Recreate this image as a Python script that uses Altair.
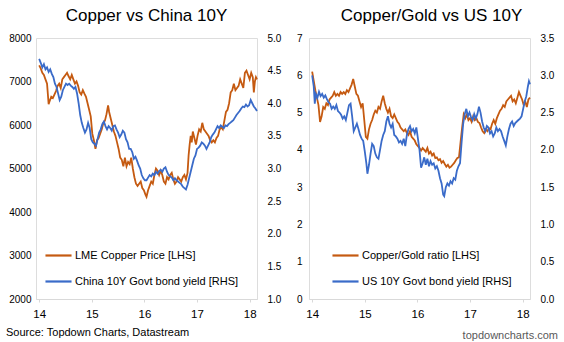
import altair as alt
import pandas as pd

FONT = "Liberation Sans"
ORANGE = "#C55A11"
BLUE = "#3A6BC9"

# ---------------- Left panel: Copper vs China 10Y ----------------
cu_t = [0.00, 0.03, 0.06, 0.09, 0.12, 0.15, 0.18, 0.20, 0.23, 0.26, 0.29, 0.32, 0.35, 0.38, 0.41,
        0.44, 0.47, 0.50, 0.53, 0.56, 0.59, 0.62, 0.65, 0.68, 0.71, 0.74, 0.77, 0.80, 0.83, 0.86,
        0.89, 0.92, 0.95, 0.98, 1.01, 1.04, 1.07, 1.10, 1.13, 1.16, 1.19, 1.22, 1.25, 1.28, 1.31,
        1.33, 1.36, 1.39, 1.42, 1.45, 1.48, 1.51, 1.54, 1.57, 1.60, 1.63, 1.66, 1.69, 1.72, 1.75,
        1.78, 1.81, 1.84, 1.87, 1.90, 1.93, 1.96, 1.99, 2.02, 2.04, 2.07, 2.10, 2.13, 2.16, 2.19,
        2.22, 2.25, 2.28, 2.31, 2.34, 2.37, 2.40, 2.43, 2.46, 2.49, 2.52, 2.55, 2.58, 2.61, 2.64,
        2.67, 2.70, 2.73, 2.76, 2.79, 2.82, 2.84, 2.86, 2.88, 2.90, 2.92, 2.95, 2.98, 3.01, 3.04,
        3.07, 3.10, 3.13, 3.16, 3.19, 3.22, 3.25, 3.28, 3.31, 3.34, 3.37, 3.40, 3.43, 3.46, 3.49,
        3.52, 3.55, 3.58, 3.61, 3.64, 3.67, 3.70, 3.73, 3.76, 3.79, 3.82, 3.85, 3.88, 3.91, 3.94,
        3.97, 4.00, 4.03, 4.06, 4.08, 4.10, 4.12, 4.14]
copper = [7370, 7300, 7200, 7150, 7050, 6950, 6480, 6550, 6650, 6620, 6700, 6780, 6900, 6950, 6850,
          7050, 7100, 7150, 7200, 7120, 7050, 7150, 7050, 6950, 7000, 6900, 6750, 6700, 6800, 6720,
          6650, 6500, 6350, 6200, 5800, 5650, 5450, 5650, 5700, 5800, 5900, 6050, 6100, 6250, 6450,
          6300, 6150, 6000, 5850, 5750, 5600, 5450, 5250, 5200, 5050, 5250, 5050, 5150, 5100, 5250,
          5000, 4800, 4650, 4600, 4650, 4700, 4550, 4500, 4400, 4350, 4500, 4600, 4700, 4650, 4850,
          5000, 4950, 4850, 4950, 4850, 4700, 4650, 4800, 4750, 4850, 4900, 4750, 4650, 4700, 4800,
          4750, 4700, 4800, 4850, 4750, 4900, 5300, 5550, 5750, 5600, 5850, 5700, 5550, 5750, 5900,
          5850, 6050, 5900, 5850, 5800, 5750, 5650, 5600, 5650, 5600, 5700, 5750, 5900, 5950, 5900,
          6100, 6300, 6350, 6500, 6750, 6800, 6950, 6800, 6850, 6900, 7050, 6950, 6850, 7200, 7250,
          7150, 7050, 7200, 7100, 6750, 7000, 7100, 7050]

cn_t = [0.00, 0.03, 0.06, 0.09, 0.12, 0.15, 0.18, 0.21, 0.24, 0.27, 0.30, 0.33, 0.36, 0.39, 0.42,
        0.45, 0.48, 0.51, 0.54, 0.57, 0.60, 0.63, 0.66, 0.69, 0.72, 0.75, 0.78, 0.81, 0.84, 0.87,
        0.90, 0.93, 0.96, 0.99, 1.02, 1.05, 1.08, 1.11, 1.14, 1.17, 1.20, 1.23, 1.26, 1.29, 1.32,
        1.35, 1.38, 1.41, 1.44, 1.47, 1.50, 1.53, 1.56, 1.59, 1.62, 1.65, 1.68, 1.71, 1.74, 1.77,
        1.80, 1.83, 1.86, 1.89, 1.92, 1.95, 1.98, 2.01, 2.04, 2.07, 2.10, 2.13, 2.16, 2.19, 2.22,
        2.25, 2.28, 2.31, 2.34, 2.37, 2.40, 2.43, 2.46, 2.49, 2.52, 2.55, 2.58, 2.61, 2.64, 2.67,
        2.70, 2.73, 2.76, 2.79, 2.82, 2.85, 2.88, 2.91, 2.94, 2.97, 3.00, 3.03, 3.06, 3.09, 3.12,
        3.15, 3.18, 3.21, 3.24, 3.27, 3.30, 3.33, 3.36, 3.39, 3.42, 3.45, 3.48, 3.51, 3.54, 3.57,
        3.60, 3.63, 3.66, 3.69, 3.72, 3.75, 3.78, 3.81, 3.84, 3.87, 3.90, 3.93, 3.96, 3.99, 4.02,
        4.05, 4.08, 4.11, 4.14]
china10y = [4.68, 4.62, 4.55, 4.60, 4.52, 4.55, 4.48, 4.52, 4.45, 4.40, 4.30, 4.25, 4.15, 4.05, 4.10,
            4.20, 4.25, 4.30, 4.28, 4.30, 4.27, 4.25, 4.22, 4.25, 4.15, 4.00, 3.82, 3.70, 3.62, 3.55,
            3.60, 3.70, 3.62, 3.45, 3.40, 3.38, 3.35, 3.45, 3.55, 3.60, 3.68, 3.72, 3.65, 3.60, 3.65,
            3.62, 3.58, 3.65, 3.66, 3.60, 3.55, 3.48, 3.52, 3.58, 3.55, 3.45, 3.40, 3.30, 3.30, 3.25,
            3.15, 3.18, 3.12, 3.05, 3.00, 2.90, 2.85, 2.82, 2.82, 2.86, 2.90, 2.88, 2.92, 2.90, 2.95,
            2.92, 2.96, 2.98, 2.95, 3.00, 3.02, 2.95, 2.90, 2.88, 2.86, 2.82, 2.85, 2.82, 2.80, 2.78,
            2.76, 2.72, 2.70, 2.68, 2.75, 2.85, 2.95, 3.05, 3.15, 3.20, 3.30, 3.32, 3.35, 3.40, 3.38,
            3.35, 3.30, 3.35, 3.40, 3.48, 3.52, 3.55, 3.60, 3.65, 3.62, 3.66, 3.64, 3.62, 3.66, 3.65,
            3.68, 3.70, 3.72, 3.74, 3.78, 3.82, 3.85, 3.88, 3.92, 3.95, 3.94, 3.98, 3.95, 3.97, 4.05,
            4.00, 3.95, 3.92, 3.88]

# ---------------- Right panel: Copper/Gold vs US 10Y ----------------
cg_t = [0.00, 0.03, 0.06, 0.09, 0.12, 0.15, 0.18, 0.21, 0.24, 0.27, 0.30, 0.33, 0.36, 0.39, 0.42,
        0.45, 0.48, 0.51, 0.54, 0.57, 0.60, 0.63, 0.66, 0.69, 0.72, 0.75, 0.78, 0.81, 0.84, 0.87,
        0.90, 0.93, 0.96, 0.99, 1.02, 1.05, 1.08, 1.11, 1.14, 1.17, 1.20, 1.23, 1.26, 1.29, 1.32,
        1.35, 1.38, 1.41, 1.44, 1.47, 1.50, 1.53, 1.56, 1.59, 1.62, 1.65, 1.68, 1.71, 1.74, 1.77,
        1.80, 1.83, 1.86, 1.89, 1.92, 1.95, 1.98, 2.01, 2.04, 2.07, 2.10, 2.13, 2.16, 2.19, 2.22,
        2.25, 2.28, 2.31, 2.34, 2.37, 2.40, 2.43, 2.46, 2.49, 2.52, 2.55, 2.58, 2.61, 2.64, 2.67,
        2.70, 2.73, 2.76, 2.79, 2.82, 2.85, 2.88, 2.91, 2.94, 2.97, 3.00, 3.03, 3.06, 3.09, 3.12,
        3.15, 3.18, 3.21, 3.24, 3.27, 3.30, 3.33, 3.36, 3.39, 3.42, 3.45, 3.48, 3.51, 3.54, 3.57,
        3.60, 3.63, 3.66, 3.69, 3.72, 3.75, 3.78, 3.81, 3.84, 3.87, 3.90, 3.93, 3.96, 3.99, 4.02,
        4.05, 4.08, 4.11, 4.14]
copper_gold = [6.10, 5.85, 5.60, 5.40, 5.20, 4.75, 4.90, 5.15, 5.10, 5.25, 5.20, 5.35, 5.40, 5.45, 5.55,
               5.45, 5.50, 5.45, 5.55, 5.50, 5.55, 5.50, 5.60, 5.55, 5.65, 5.75, 5.90, 5.70, 5.50, 5.45,
               5.30, 5.15, 5.25, 4.80, 4.35, 4.30, 4.55, 4.70, 4.80, 4.95, 5.05, 5.00, 5.15, 5.10, 5.30,
               5.45, 5.25, 5.10, 5.00, 5.10, 4.90, 4.85, 4.95, 4.85, 4.75, 4.70, 4.60, 4.55, 4.50, 4.55,
               4.45, 4.40, 4.50, 4.35, 4.30, 4.25, 4.15, 4.10, 4.05, 3.98, 4.05, 4.00, 3.95, 4.05, 3.90,
               3.95, 3.85, 3.90, 3.78, 3.80, 3.72, 3.75, 3.65, 3.70, 3.62, 3.55, 3.60, 3.52, 3.55, 3.60,
               3.65, 3.72, 3.78, 3.80, 4.20, 4.60, 4.95, 4.85, 4.95, 4.80, 4.85, 4.75, 4.90, 4.80, 4.85,
               4.75, 4.72, 4.60, 4.50, 4.45, 4.55, 4.50, 4.58, 4.55, 4.70, 4.80, 4.70, 4.85, 4.95, 5.05,
               5.10, 5.20, 5.15, 5.30, 5.35, 5.40, 5.45, 5.30, 5.35, 5.25, 5.40, 5.55, 5.45, 5.35, 5.20,
               5.30, 5.15, 5.35, 5.40]

us_t = [0.00, 0.03, 0.05, 0.07, 0.10, 0.13, 0.16, 0.19, 0.22, 0.25, 0.28, 0.31, 0.34, 0.37, 0.40,
        0.43, 0.46, 0.49, 0.52, 0.55, 0.58, 0.61, 0.64, 0.67, 0.70, 0.73, 0.76, 0.79, 0.82, 0.85,
        0.88, 0.91, 0.94, 0.97, 1.00, 1.03, 1.05, 1.08, 1.11, 1.14, 1.17, 1.20, 1.23, 1.26, 1.29,
        1.32, 1.35, 1.38, 1.41, 1.44, 1.47, 1.50, 1.53, 1.56, 1.59, 1.62, 1.65, 1.68, 1.71, 1.74,
        1.77, 1.80, 1.83, 1.86, 1.89, 1.92, 1.95, 1.98, 2.01, 2.04, 2.07, 2.10, 2.13, 2.16, 2.19,
        2.22, 2.25, 2.28, 2.31, 2.34, 2.37, 2.40, 2.43, 2.46, 2.49, 2.51, 2.54, 2.57, 2.60, 2.63,
        2.66, 2.69, 2.72, 2.75, 2.78, 2.81, 2.84, 2.87, 2.90, 2.93, 2.96, 2.99, 3.02, 3.05, 3.08,
        3.11, 3.14, 3.17, 3.20, 3.23, 3.26, 3.29, 3.32, 3.35, 3.38, 3.41, 3.44, 3.47, 3.50, 3.53,
        3.56, 3.59, 3.62, 3.65, 3.68, 3.71, 3.74, 3.77, 3.80, 3.83, 3.86, 3.89, 3.92, 3.95, 3.98,
        4.01, 4.04, 4.07, 4.10, 4.12, 4.14]
us10y = [3.00, 2.85, 2.62, 2.75, 2.70, 2.78, 2.72, 2.75, 2.70, 2.73, 2.68, 2.64, 2.62, 2.55, 2.58,
         2.55, 2.60, 2.52, 2.50, 2.47, 2.42, 2.45, 2.40, 2.50, 2.60, 2.62, 2.45, 2.25, 2.30, 2.35,
         2.28, 2.20, 2.15, 2.12, 1.98, 1.82, 1.68, 1.80, 1.95, 2.08, 2.05, 1.95, 1.90, 1.88, 2.00,
         2.12, 2.20, 2.25, 2.38, 2.45, 2.35, 2.30, 2.35, 2.20, 2.18, 2.15, 2.10, 2.12, 2.08, 2.15,
         2.05, 2.20, 2.28, 2.32, 2.25, 2.28, 2.22, 2.30, 2.15, 2.00, 1.76, 1.82, 1.90, 1.80, 1.88,
         1.78, 1.85, 1.80, 1.82, 1.75, 1.78, 1.72, 1.62, 1.55, 1.40, 1.38, 1.50, 1.55, 1.52, 1.58,
         1.55, 1.62, 1.60, 1.72, 1.78, 1.82, 2.10, 2.35, 2.48, 2.55, 2.45, 2.50, 2.44, 2.40, 2.48,
         2.42, 2.48, 2.58, 2.50, 2.38, 2.30, 2.25, 2.32, 2.30, 2.22, 2.25, 2.18, 2.22, 2.30, 2.25,
         2.28, 2.25, 2.18, 2.12, 2.06, 2.18, 2.28, 2.35, 2.38, 2.32, 2.36, 2.38, 2.40, 2.42, 2.45,
         2.55, 2.65, 2.72, 2.85, 2.92, 2.88]

x_ticks = [14, 15, 16, 17, 18]
left_ticks_a = [2000, 3000, 4000, 5000, 6000, 7000, 8000]
left_ticks_b = [1.0, 1.5, 2.0, 2.5, 3.0, 3.5, 4.0, 4.5, 5.0]
right_ticks_a = [0, 1, 2, 3, 4, 5, 6, 7]
right_ticks_b = [0.0, 0.5, 1.0, 1.5, 2.0, 2.5, 3.0, 3.5]

W, H = 221, 261
XDOM = [13.94, 18.14]


def frame(t, v, name):
    return pd.DataFrame({"year": [14 + x for x in t], "value": v, "series": name})


def panel(ta, va, name_a, ticks_a, fmt_a, tb, vb, name_b, ticks_b, title, title_dx,
          leg_x, foot_text, foot_x, foot_y, foot_align, foot_color, pad_a):
    color = alt.Color(
        "series:N",
        scale=alt.Scale(domain=[name_a, name_b], range=[ORANGE, BLUE]),
        legend=alt.Legend(
            title=None, orient="none", legendX=leg_x, legendY=203,
            symbolType="stroke", symbolSize=680, symbolStrokeWidth=2.2,
            labelFont=FONT, labelFontSize=11, labelColor="#000000", labelLimit=400,
            labelOffset=2, rowPadding=6, padding=0,
        ),
    )
    x = alt.X("year:Q", scale=alt.Scale(domain=XDOM, nice=False, zero=False),
              axis=alt.Axis(values=x_ticks, format="d", title=None, grid=False,
                            domainColor="#D9D9D9", tickColor="#D9D9D9", tickSize=3,
                            labelPadding=6, labelFontSize=11.5))
    la = alt.Chart(frame(ta, va, name_a)).mark_line(strokeWidth=1.8).encode(
        x=x,
        y=alt.Y("value:Q", scale=alt.Scale(domain=[ticks_a[0], ticks_a[-1]], nice=False, zero=False),
                axis=alt.Axis(values=ticks_a, format=fmt_a, title=None, grid=False, domain=False,
                              ticks=False, tickSize=0, labelPadding=pad_a, orient="left")),
        color=color,
    )
    lb = alt.Chart(frame(tb, vb, name_b)).mark_line(strokeWidth=1.8).encode(
        x=x,
        y=alt.Y("value:Q", scale=alt.Scale(domain=[ticks_b[0], ticks_b[-1]], nice=False, zero=False),
                axis=alt.Axis(values=ticks_b, format=".1f", title=None, grid=False, domain=False,
                              ticks=False, tickSize=0, labelPadding=10, orient="right")),
        color=color,
    )
    foot = alt.Chart(pd.DataFrame({"label": [foot_text]})).mark_text(
        align=foot_align, baseline="alphabetic", font=FONT, fontSize=11, color=foot_color
    ).encode(x=alt.value(foot_x), y=alt.value(foot_y), text="label:N")
    return alt.layer(la, lb, foot).resolve_scale(y="independent").properties(
        width=W, height=H,
        title=alt.TitleParams(title, font=FONT, fontSize=17, fontWeight="normal",
                              color="#000000", anchor="middle", dx=title_dx, offset=8),
    )


left = panel(cu_t, copper, "LME Copper Price [LHS]", left_ticks_a, "d",
             cn_t, china10y, "China 10Y Govt bond yield [RHS]", left_ticks_b,
             "Copper vs China 10Y", 0, 8,
             "Source: Topdown Charts, Datastream", -30, H + 37, "left", "#000000", 5)
right = panel(cg_t, copper_gold, "Copper/Gold ratio [LHS]", right_ticks_a, "d",
              us_t, us10y, "US 10Y Govt bond yield [RHS]", right_ticks_b,
              "Copper/Gold vs US 10Y", 12, 22,
              "topdowncharts.com", W + 28, H + 40, "right", "#595959", 7)

chart = alt.hconcat(left, right, spacing=13).resolve_scale(color="independent").resolve_legend(
    color="independent"
).properties(padding={"left": 5, "top": 6, "right": 0, "bottom": 0}).configure_view(
    stroke=None
).configure_axis(labelFont=FONT, labelColor="#000000", labelFontSize=11).configure(background="white")

chart.save("out.html", embed_options={"renderer": "svg", "actions": False})
